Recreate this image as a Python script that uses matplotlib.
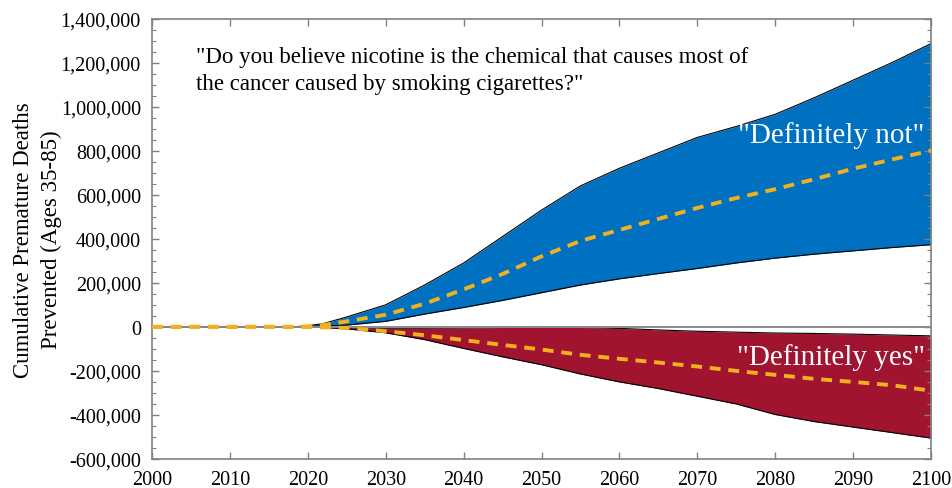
import matplotlib
matplotlib.use("Agg")
import matplotlib.pyplot as plt
from matplotlib.ticker import MultipleLocator, FuncFormatter

# cumulative deaths prevented, by answer group
years = [2000, 2010, 2018, 2020, 2022, 2025, 2030, 2035, 2040, 2045, 2050,
         2055, 2060, 2065, 2070, 2075, 2080, 2085, 2090, 2095, 2100]

not_hi = [0, 0, 0, 5e3, 15e3, 45e3, 100e3, 190e3, 290e3, 410e3, 530e3,
          640e3, 720e3, 790e3, 860e3, 910e3, 965e3, 1040e3, 1120e3, 1200e3, 1286e3]
not_lo = [0, 0, 0, 2e3, 4e3, 8e3, 25e3, 58e3, 88e3, 120e3, 155e3,
          190e3, 218e3, 242e3, 265e3, 290e3, 312e3, 330e3, 345e3, 360e3, 373e3]
not_mid = [0, 0, 0, 2e3, 8e3, 25e3, 55e3, 105e3, 170e3, 240e3, 320e3,
           390e3, 440e3, 490e3, 540e3, 585e3, 625e3, 670e3, 718e3, 760e3, 800e3]

yes_hi = [0, 0, 0, 0, -2e3, -5e3, -6e3, -6e3, -5e3, -3e3, 0,
          -3e3, -7e3, -14e3, -20e3, -24e3, -28e3, -30e3, -33e3, -37e3, -41e3]
yes_lo = [0, 0, 0, -1e3, -3e3, -9e3, -27e3, -58e3, -98e3, -136e3, -172e3,
          -214e3, -250e3, -280e3, -315e3, -350e3, -398e3, -430e3, -455e3, -480e3, -505e3]
yes_mid = [0, 0, 0, -1e3, -2e3, -5e3, -20e3, -38e3, -60e3, -82e3, -103e3,
           -127e3, -145e3, -162e3, -180e3, -200e3, -218e3, -236e3, -250e3, -265e3, -290e3]

question = '"Do you believe nicotine is the chemical that causes most of\nthe cancer caused by smoking cigarettes?"'

plt.rcParams['font.family'] = ['Liberation Serif', 'DejaVu Serif']

fig = plt.figure(figsize=(9.52, 4.89), dpi=100)
ax = fig.add_axes([152/952, 1-460/489, (931-152)/952, (460-19.5)/489])

blue = '#0070C0'
red = '#A01430'
gold = '#F2B01E'

ax.fill_between(years, not_lo, not_hi, color=blue, lw=0)
ax.plot(years, not_hi, color='black', lw=0.8)
ax.plot(years, not_lo, color='black', lw=0.8)
ax.fill_between(years, yes_lo, yes_hi, color=red, lw=0)
ax.plot(years, yes_hi, color='black', lw=0.8)
ax.plot(years, yes_lo, color='black', lw=0.8)

ax.axhline(0, color='#8a8a8a', lw=1.4, zorder=3)

ax.plot(years, not_mid, color=gold, lw=2.8, ls=(0, (2.8, 2.0)), zorder=4)
ax.plot(years, yes_mid, color=gold, lw=2.8, ls=(0, (2.8, 2.0)), zorder=4)

ax.set_xlim(2000, 2100)
ax.set_ylim(-600000, 1400000)
ax.xaxis.set_major_locator(MultipleLocator(10))
ax.yaxis.set_major_locator(MultipleLocator(200000))
ax.yaxis.set_minor_locator(MultipleLocator(50000))
ax.yaxis.set_major_formatter(FuncFormatter(lambda v, p: f'{int(v):,}'))

for s in ax.spines.values():
    s.set_color('#808080')
    s.set_linewidth(1.2)
ax.tick_params(which='both', direction='in', top=True, right=True,
               color='#808080', labelsize=14.5)
ax.tick_params(which='major', length=5, width=1)
ax.tick_params(which='minor', length=3, width=0.8)
ax.tick_params(axis='y', pad=8)
ax.tick_params(axis='x', pad=8)

ax.set_ylabel('Cumulative Premature Deaths\nPrevented (Ages 35-85)', fontsize=16.5,
              linespacing=1.4, labelpad=-1)

ax.text(2005.6, 1082000, question, fontsize=16.5, va='baseline', ha='left',
        linespacing=1.35)
ax.text(2099.2, 841000, '"Definitely not"', fontsize=21, color='white',
        ha='right', va='baseline')
ax.text(2099.2, -168000, '"Definitely yes"', fontsize=21, color='white',
        ha='right', va='baseline')

fig.savefig('out.png', dpi=100)
